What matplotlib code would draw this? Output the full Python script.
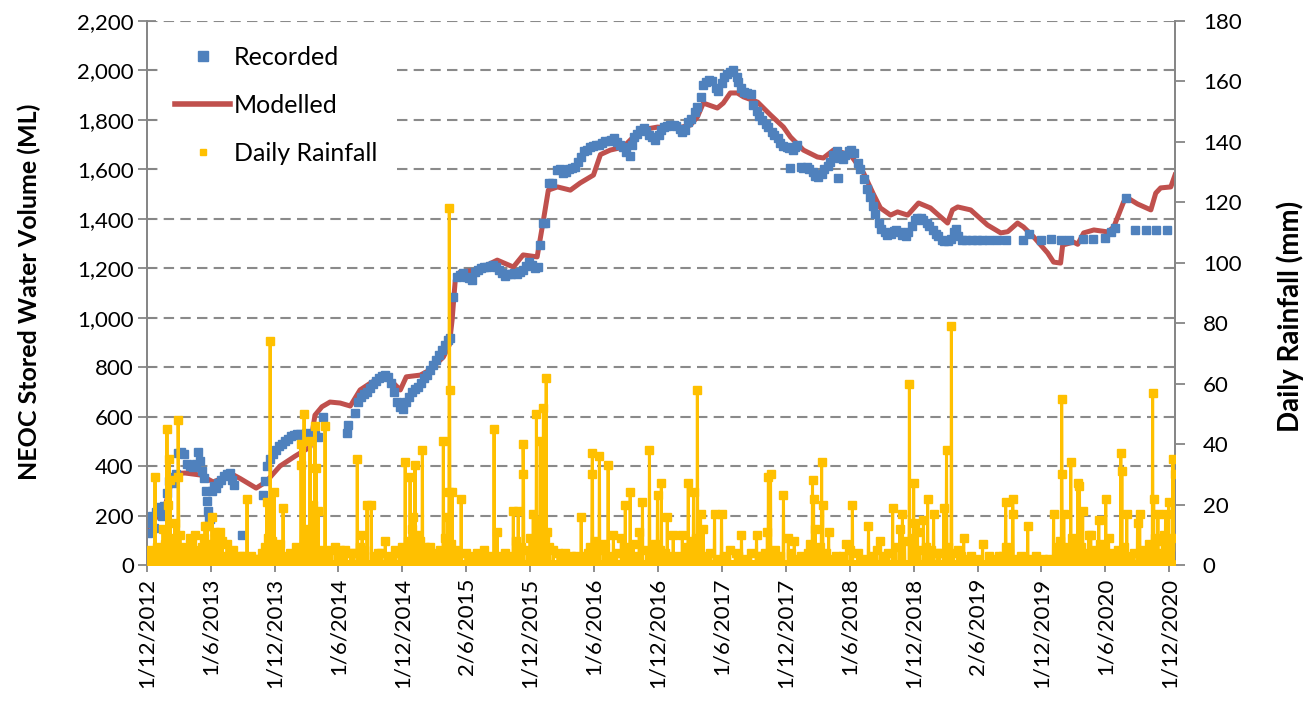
import numpy as np
import matplotlib
matplotlib.use("Agg")
import matplotlib.pyplot as plt
from matplotlib.lines import Line2D
from matplotlib.ticker import FuncFormatter, MultipleLocator

plt.rcParams['font.family'] = ['Lato', 'DejaVu Sans']

START = np.datetime64('2012-12-01')
END_DAY = 2938  # days after START shown at the right edge

# Modelled stored volume (ML), days after START
model_day = [0, 37, 54, 69, 83, 109, 152, 189, 215, 237, 266, 312, 340, 380, 423, 466, 480, 500,
             523, 552, 581, 609, 638, 675, 701, 724, 741, 781, 809, 847, 864, 872, 881, 895, 944,
             1001, 1047, 1075, 1115, 1133, 1147, 1173, 1210, 1238, 1276, 1296, 1324, 1361, 1410,
             1459, 1516, 1553, 1573, 1590, 1630, 1647, 1667, 1687, 1705, 1745, 1782, 1819, 1839,
             1876, 1916, 1933, 1962, 2011, 2048, 2076, 2096, 2125, 2145, 2174, 2205, 2239, 2288,
             2302, 2317, 2354, 2402, 2440, 2460, 2488, 2505, 2534, 2574, 2591, 2611, 2617, 2648,
             2660, 2677, 2706, 2746, 2763, 2791, 2803, 2831, 2869, 2883, 2897, 2926, 2938]
model_ml = [150, 210, 250, 330, 370, 372, 364, 336, 350, 372, 350, 311, 336, 400, 440, 477, 606, 640,
            659, 655, 643, 708, 735, 768, 740, 708, 761, 768, 789, 841, 890, 991, 1152, 1185, 1193,
            1233, 1205, 1254, 1246, 1395, 1516, 1529, 1516, 1545, 1577, 1660, 1678, 1690, 1759,
            1771, 1767, 1779, 1812, 1868, 1848, 1868, 1909, 1909, 1893, 1872, 1820, 1771, 1731,
            1678, 1650, 1646, 1678, 1658, 1585, 1500, 1444, 1415, 1428, 1415, 1464, 1444, 1383,
            1436, 1448, 1436, 1375, 1343, 1348, 1383, 1367, 1327, 1262, 1225, 1221, 1294, 1306,
            1297, 1343, 1355, 1347, 1367, 1468, 1484, 1460, 1436, 1504, 1525, 1529, 1577]

# Recorded stored volume (ML)
rec_day = [3, 9, 14, 20, 26, 31, 37, 43, 49, 57, 63, 69, 74, 83, 89, 97, 106, 114, 123, 132, 140,
           146, 152, 157, 163, 169, 172, 174, 177, 180, 186, 192, 197, 203, 212, 220, 229, 237, 243,
           249, 272, 332, 337, 343, 352, 360, 369, 378, 386, 395, 403, 412, 420, 429, 438, 446, 455,
           463, 472, 480, 489, 503, 572, 575, 595, 603, 612, 621, 629, 638, 646, 655, 663, 672, 681,
           689, 698, 706, 715, 724, 732, 741, 749, 758, 766, 775, 784, 792, 801, 809, 818, 827, 835,
           844, 852, 861, 867, 875, 887, 895, 904, 912, 921, 930, 938, 947, 955, 964, 972, 981, 990,
           998, 1007, 1015, 1024, 1032, 1041, 1050, 1058, 1067, 1075, 1084, 1093, 1101, 1110, 1118,
           1124, 1133, 1138, 1150, 1158, 1173, 1181, 1190, 1198, 1207, 1215, 1224, 1233, 1241, 1250,
           1258, 1267, 1276, 1284, 1293, 1301, 1310, 1319, 1327, 1336, 1344, 1353, 1361, 1370, 1379,
           1387, 1393, 1401, 1410, 1419, 1427, 1436, 1444, 1453, 1462, 1470, 1479, 1487, 1496, 1505,
           1513, 1522, 1530, 1539, 1547, 1556, 1565, 1573, 1582, 1590, 1599, 1607, 1616, 1625, 1633,
           1642, 1650, 1659, 1667, 1676, 1685, 1690, 1699, 1707, 1716, 1725, 1733, 1742, 1750, 1759,
           1768, 1776, 1785, 1793, 1802, 1810, 1819, 1828, 1836, 1845, 1853, 1859, 1839, 1868, 1876,
           1885, 1893, 1902, 1910, 1919, 1928, 1936, 1945, 1953, 1962, 1971, 1974, 1979, 1988, 1996,
           2005, 2013, 2022, 2031, 2039, 2048, 2057, 2065, 2074, 2082, 2091, 2099, 2108, 2116, 2125,
           2134, 2142, 2151, 2159, 2168, 2176, 2185, 2194, 2202, 2211, 2219, 2228, 2236, 2245, 2254,
           2262, 2271, 2279, 2288, 2297, 2305, 2311, 2319, 2328, 2342, 2357, 2371, 2385, 2405, 2428,
           2454, 2505, 2520, 2554, 2583, 2611, 2634, 2674, 2703, 2737, 2754, 2766, 2797, 2823, 2854,
           2883, 2914]
rec_ml = [130, 170, 200, 150, 215, 225, 235, 200, 240, 290, 340, 356, 330, 370, 453, 455, 450, 410,
          400, 395, 410, 455, 420, 380, 350, 300, 260, 220, 195, 185, 300, 320, 310, 330, 345, 360,
          370, 372, 345, 325, 121, 285, 340, 400, 430, 450, 465, 480, 490, 500, 510, 520, 525, 530,
          530, 525, 535, 530, 520, 525, 518, 600, 535, 566, 615, 660, 680, 690, 700, 715, 730, 745,
          755, 765, 768, 760, 735, 700, 660, 640, 630, 660, 680, 700, 710, 720, 735, 755, 770, 790,
          810, 830, 850, 870, 890, 910, 918, 1084, 1165, 1173, 1180, 1165, 1160, 1152, 1185, 1195,
          1200, 1205, 1205, 1210, 1213, 1205, 1195, 1180, 1170, 1175, 1178, 1180, 1175, 1185, 1195,
          1210, 1225, 1215, 1200, 1205, 1294, 1383, 1383, 1545, 1545, 1597, 1600, 1585, 1590, 1600,
          1606, 1610, 1630, 1650, 1675, 1680, 1690, 1695, 1700, 1700, 1705, 1715, 1715, 1720, 1725,
          1710, 1700, 1690, 1670, 1655, 1700, 1730, 1745, 1760, 1767, 1755, 1740, 1730, 1719, 1740,
          1760, 1771, 1775, 1779, 1779, 1775, 1765, 1750, 1760, 1790, 1805, 1830, 1852, 1893, 1940,
          1955, 1960, 1958, 1930, 1915, 1950, 1975, 1985, 1994, 2000, 1975, 1953, 1930, 1913, 1910,
          1905, 1860, 1835, 1815, 1800, 1785, 1770, 1750, 1740, 1725, 1707, 1695, 1690, 1685, 1680,
          1690, 1700, 1605, 1609, 1605, 1610, 1600, 1590, 1575, 1570, 1580, 1600, 1615, 1630, 1660,
          1675, 1565, 1645, 1640, 1660, 1675, 1678, 1665, 1626, 1600, 1560, 1520, 1490, 1450, 1420,
          1385, 1360, 1345, 1335, 1340, 1350, 1355, 1345, 1335, 1330, 1345, 1370, 1395, 1405, 1405,
          1395, 1385, 1370, 1355, 1340, 1330, 1315, 1310, 1310, 1320, 1345, 1360, 1330, 1314, 1314,
          1314, 1314, 1314, 1314, 1314, 1314, 1314, 1340, 1314, 1318, 1314, 1314, 1318, 1318, 1322,
          1345, 1363, 1484, 1355, 1355, 1355, 1355]

# Daily rainfall (mm) on the days with rain; all other days are dry
rain_day = [23, 37, 46, 57, 60, 63, 66, 72, 80, 89, 90, 94, 103, 123, 137, 152, 166, 172, 186, 194,
            203, 209, 229, 246, 266, 286, 309, 329, 343, 352, 358, 363, 375, 389, 409, 426, 440, 441,
            449, 458, 466, 475, 480, 483, 489, 500, 509, 523, 538, 552, 566, 583, 601, 615, 629, 641,
            661, 681, 709, 721, 738, 746, 752, 761, 766, 775, 787, 795, 809, 829, 847, 858, 863, 864,
            865, 872, 881, 898, 912, 924, 944, 964, 992, 1001, 1010, 1024, 1047, 1061, 1075, 1076,
            1087, 1104, 1113, 1118, 1124, 1133, 1141, 1144, 1161, 1175, 1195, 1213, 1241, 1261, 1272,
            1273, 1293, 1304, 1318, 1333, 1356, 1367, 1381, 1390, 1407, 1416, 1436, 1447, 1459, 1470,
            1487, 1504, 1530, 1547, 1562, 1573, 1582, 1590, 1610, 1622, 1642, 1665, 1682, 1699, 1725,
            1742, 1759, 1773, 1776, 1782, 1796, 1819, 1833, 1850, 1868, 1888, 1902, 1905, 1910, 1928,
            1931, 1948, 1968, 1999, 2016, 2031, 2062, 2085, 2096, 2119, 2131, 2151, 2159, 2179, 2191,
            2196, 2202, 2219, 2231, 2248, 2259, 2277, 2285, 2299, 2317, 2334, 2354, 2388, 2405, 2434,
            2454, 2455, 2474, 2475, 2497, 2517, 2540, 2577, 2591, 2605, 2614, 2615, 2620, 2640, 2651,
            2660, 2665, 2674, 2691, 2697, 2720, 2731, 2740, 2748, 2768, 2783, 2786, 2800, 2831, 2837,
            2863, 2874, 2877, 2889, 2906, 2911, 2920, 2932, 2937]
rain_mm = [29, 4, 12, 45, 20, 35, 28, 8, 14, 48, 29, 10, 6, 9, 10, 5, 13, 13, 16, 11,
           9, 11, 7, 5, 3, 22, 2, 4, 21, 74, 8, 24, 6, 19, 4, 6, 40, 33,
           50, 12, 41, 20, 46, 32, 18, 5, 46, 5, 6, 5, 5, 4, 35, 10, 20, 20,
           4, 8, 5, 4, 34, 8, 29, 16, 33, 10, 38, 6, 6, 4, 41, 16, 24, 118,
           58, 24, 5, 22, 4, 3, 4, 5, 45, 11, 3, 4, 18, 18, 40, 30,
           5, 17, 50, 15, 41, 52, 62, 11, 5, 4, 4, 3, 16, 4, 30,
           37, 36, 7, 33, 10, 9, 20, 24, 7, 11, 21, 38, 6, 23, 27,
           16, 10, 10, 27, 24, 58, 17, 12, 4, 17, 17, 5, 4, 10, 4,
           10, 3, 11, 29, 30, 5, 23, 9, 8, 3, 4, 28, 22, 12, 34,
           20, 11, 3, 7, 20, 4, 13, 5, 8, 4, 19, 12, 17, 60, 27,
           14, 11, 15, 22, 17, 4, 19, 38, 79, 5, 9, 3, 7, 3, 3,
           21, 6, 22, 17, 3, 13, 3, 2, 17, 6, 55, 30, 17, 34, 8,
           27, 26, 18, 10, 10, 15, 6, 22, 9, 3, 37, 31, 17, 14, 17,
           7, 57, 22, 17, 10, 17, 21, 35, 30]

# Light-rain days (mm)
drizzle_day = [5, 12, 18, 30, 41, 51, 69, 76, 85, 99, 110, 117, 129, 145, 158, 162, 178, 181, 190,
               199, 215, 222, 236, 255, 275, 298, 318, 337, 347, 370, 381, 395, 415, 433, 452, 470,
               495, 517, 545, 560, 590, 608, 620, 650, 670, 690, 700, 730, 742, 757, 770, 781, 800,
               820, 838, 852, 869, 890, 930, 955, 980, 1018, 1035, 1055, 1068, 1095, 1108, 1129,
               1137, 1150, 1185, 1225, 1250, 1266, 1280, 1288, 1310, 1325, 1342, 1362, 1375, 1400,
               1428, 1441, 1453, 1465, 1480, 1495, 1518, 1540, 1555, 1568, 1578, 1600, 1630, 1650,
               1690, 1710, 1750, 1765, 1790, 1810, 1840, 1860, 1895, 1915, 1922, 1940, 1960, 1990,
               2010, 2045, 2075, 2108, 2140, 2165, 2185, 2208, 2225, 2240, 2265, 2290, 2305, 2325,
               2345, 2370, 2420, 2446, 2465, 2485, 2530, 2560, 2600, 2610, 2625, 2632, 2645, 2656,
               2670, 2682, 2705, 2712, 2725, 2758, 2775, 2793, 2810, 2820, 2845, 2858, 2870, 2882,
               2895, 2902, 2915, 2925, 2930]
drizzle_mm = [3, 5, 2, 6, 3, 7, 5, 9, 6, 4, 3, 5, 8, 4, 6, 9, 7, 5, 6,
              4, 8, 3, 4, 2, 3, 3, 2, 6, 9, 5, 7, 3, 3, 5, 9, 7,
              4, 3, 2, 3, 4, 6, 5, 3, 4, 3, 2, 6, 5, 12, 7, 8, 4,
              3, 5, 9, 7, 3, 2, 3, 3, 2, 3, 8, 6, 9, 6, 8,
              9, 6, 2, 3, 3, 6, 8, 5, 6, 3, 4, 6, 4, 3,
              5, 4, 7, 5, 4, 3, 3, 6, 8, 9, 5, 3, 2, 3,
              3, 2, 3, 4, 4, 3, 4, 2, 7, 5, 6, 4, 2, 3,
              5, 2, 3, 3, 6, 8, 9, 5, 6, 5, 4, 6, 4, 3,
              2, 2, 2, 3, 4, 2, 2, 2, 4, 8, 6, 5, 9, 7,
              6, 4, 5, 3, 7, 4, 5, 6, 3, 4, 5, 3, 6, 9,
              4, 8, 7, 6, 9]

tick_dates = ['2012-12-01', '2013-06-01', '2013-12-01', '2014-06-01', '2014-12-01', '2015-06-02',
              '2015-12-01', '2016-06-01', '2016-12-01', '2017-06-01', '2017-12-01', '2018-06-01',
              '2018-12-01', '2019-06-02', '2019-12-01', '2020-06-01', '2020-12-01']
tick_labels = ['1/12/2012', '1/6/2013', '1/12/2013', '1/6/2014', '1/12/2014', '2/6/2015',
               '1/12/2015', '1/6/2016', '1/12/2016', '1/6/2017', '1/12/2017', '1/6/2018',
               '1/12/2018', '2/6/2019', '1/12/2019', '1/6/2020', '1/12/2020']

BLUE = '#4F81BD'
RED = '#C0504D'
GOLD = '#FFC000'
GREY = '#868686'


def to_dates(days):
    return START + np.asarray(days).astype('timedelta64[D]')


# daily rainfall series
all_days = np.arange(0, END_DAY + 1)
daily_rain = np.zeros(len(all_days))
daily_rain[np.asarray(drizzle_day)] = drizzle_mm
daily_rain[np.asarray(rain_day)] = rain_mm

fig = plt.figure(figsize=(13.13, 7.03), dpi=100)
ax = fig.add_axes([147 / 1313, (703 - 565) / 703, (1175 - 147) / 1313, (565 - 21) / 703])
ax2 = ax.twinx()

ax.plot(to_dates(model_day), model_ml, color=RED, lw=3.6, solid_joinstyle='round', zorder=2)
ax.plot(to_dates(rec_day), rec_ml, ls='none', marker='s', ms=6.3, color=BLUE, zorder=3)
ax2.plot(to_dates(all_days), daily_rain, color=GOLD, lw=2.2, marker='s', ms=5.2, zorder=3)

ax.set_xlim(START, START + np.timedelta64(END_DAY, 'D'))
ax.set_ylim(0, 2200)
ax2.set_ylim(0, 180)
ax.yaxis.set_major_locator(MultipleLocator(200))
ax.yaxis.set_major_formatter(FuncFormatter(lambda v, p: f'{int(v):,}'))
ax2.yaxis.set_major_locator(MultipleLocator(20))

ax.set_xticks(to_dates([(np.datetime64(d) - START).astype(int) for d in tick_dates]))
ax.set_xticklabels(tick_labels, rotation=90)

ax.grid(axis='y', color='#8A8A8A', lw=1.5, ls=(0, (5, 3)))
ax.set_axisbelow(True)

for a in (ax, ax2):
    for s in a.spines.values():
        s.set_color(GREY)
        s.set_linewidth(1.3)
    a.spines['top'].set_visible(False)

ax.tick_params(axis='y', direction='inout', length=13, width=1.3, color=GREY, labelsize=16, pad=3)
ax.tick_params(axis='x', direction='out', length=5, width=1.3, color=GREY, labelsize=16, pad=4)
ax2.tick_params(axis='y', direction='out', length=7, width=1.3, color=GREY, labelsize=16, pad=13)

fig.text(29 / 1313, 1 - 292 / 703, 'NEOC Stored Water Volume (ML)', fontsize=18,
         fontweight='bold', rotation=90, ha='center', va='center')
fig.text(1290 / 1313, 1 - 316 / 703, 'Daily Rainfall (mm)', fontsize=20,
         fontweight='bold', rotation=90, ha='center', va='center')

handles = [Line2D([], [], ls='none', marker='s', ms=7, color=BLUE),
           Line2D([], [], color=RED, lw=4),
           Line2D([], [], ls='none', marker='s', ms=4.5, color=GOLD)]
leg = ax2.legend(handles, ['Recorded', 'Modelled', 'Daily Rainfall'], loc='upper left',
                 bbox_to_anchor=(160 / 1313, 1 - 31 / 703), bbox_transform=fig.transFigure,
                 fontsize=18, frameon=True, fancybox=False, framealpha=1, facecolor='white',
                 edgecolor='none', borderaxespad=0, borderpad=0.6, handlelength=2.2,
                 handletextpad=0.16, labelspacing=1.0)

fig.savefig('out.png', dpi=100, facecolor='white')
